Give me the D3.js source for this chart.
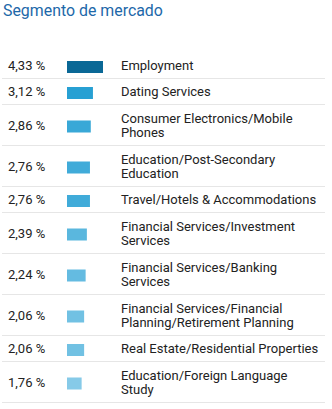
<!DOCTYPE html>
<html>
<head>
<meta charset="utf-8">
<script src="https://cdn.jsdelivr.net/npm/d3@7"></script>
<style>
  html, body { margin: 0; padding: 0; background: #fff; }
  svg { display: block; font-family: Roboto, "Noto Sans", sans-serif; }
</style>
</head>
<body>
<svg id="chart" width="332" height="409"></svg>
<script>
const title = "Segmento de mercado";
const categories = [
  "Employment",
  "Dating Services",
  "Consumer Electronics/Mobile Phones",
  "Education/Post-Secondary Education",
  "Travel/Hotels & Accommodations",
  "Financial Services/Investment Services",
  "Financial Services/Banking Services",
  "Financial Services/Financial Planning/Retirement Planning",
  "Real Estate/Residential Properties",
  "Education/Foreign Language Study"
];
const values = [4.33, 3.12, 2.86, 2.76, 2.76, 2.39, 2.24, 2.06, 2.06, 1.76];

(function () {
const svg = d3.select("#chart");
const fmt = v => d3.format(".2f")(v).replace(".", ",") + " %";

svg.append("text")
  .attr("x", 3).attr("y", 15.5)
  .attr("font-size", 15.9)
  .attr("fill", "#1d68a9")
  .text(title);

const x = d3.scaleLinear().domain([0, d3.max(values)]).range([0, 36]);
const color = d3.scaleLinear()
  .domain([1.76, 3.12, 4.33])
  .range(["#86cae8", "#27a0d3", "#0a6896"]);

const labelX = 121, valueX = 8, barX = 67, wrapW = 200, lineH = 14;

const measurer = svg.append("text").attr("font-size", 13).attr("visibility", "hidden");
function wrap(str) {
  const words = str.split(" ");
  const lines = [];
  let cur = "";
  words.forEach(w => {
    const test = cur ? cur + " " + w : w;
    measurer.text(test);
    if (cur && measurer.node().getComputedTextLength() > wrapW) {
      lines.push(cur); cur = w;
    } else cur = test;
  });
  if (cur) lines.push(cur);
  return lines;
}

let rowTop = 52;
categories.forEach((cat, i) => {
  const lines = wrap(cat);
  const n = lines.length;
  const h = 11 + 15 * n;
  const cy = rowTop + h / 2 + 0.5;
  const g = svg.append("g");
  g.append("text")
    .attr("x", valueX).attr("y", cy + 4.5)
    .attr("font-size", 13).attr("fill", "#222")
    .text(fmt(values[i]));
  g.append("rect")
    .attr("x", barX).attr("y", cy - 4.5)
    .attr("width", x(values[i])).attr("height", 12)
    .attr("fill", color(values[i]));
  lines.forEach((ln, k) => {
    g.append("text")
      .attr("x", labelX)
      .attr("y", cy + 4.5 - (lineH / 2) * (n - 1) + lineH * k)
      .attr("font-size", 13).attr("fill", "#222")
      .text(ln);
  });
  rowTop += h;
  g.append("line")
    .attr("x1", 2).attr("x2", 325)
    .attr("y1", rowTop + 0.5).attr("y2", rowTop + 0.5)
    .attr("stroke", "#e6e6e6").attr("stroke-width", 1);
});
measurer.remove();
})();
</script>
</body>
</html>
